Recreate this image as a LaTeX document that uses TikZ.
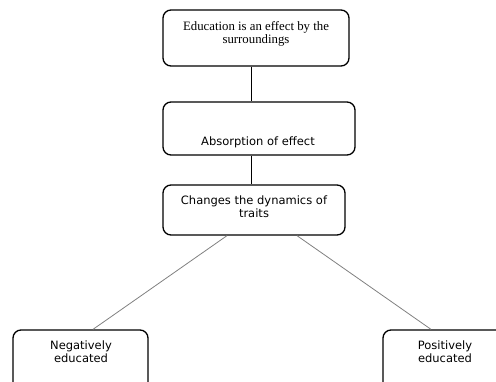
\documentclass[tikz,border=0pt]{standalone}
\usepackage{fontspec}
\setmainfont{DejaVu Sans}
\newfontfamily\boxserif{Liberation Serif}
\usepackage{tikz}

\tikzset{
	stepbox/.style={draw=black, line width=1.3pt, rounded corners=8pt},
	boxtext/.style={inner sep=0pt, align=center, font=\fontsize{11.5}{13}\selectfont},
	link/.style={draw=black, line width=0.8pt},
	branch/.style={draw=gray, line width=0.8pt}
}

\begin{document}
\begin{tikzpicture}[x=1pt,y=1pt]
		\useasboundingbox (0,0) rectangle (496,-381);
		\clip (0,0) rectangle (496,-381);
		% boxes
		\node [stepbox, minimum width=186pt, minimum height=56pt] (edu) at (256,-38) {};
		\node [boxtext, font=\boxserif\fontsize{12.8}{13}\selectfont] (edutxt) at (256,-33.5) {Education is an effect by the\\surroundings};
		\node [stepbox, minimum width=192pt, minimum height=53pt] (absorp) at (259,-128.5) {};
		\node [boxtext] (absorptxt) at (258,-142) {Absorption of effect};
		\node [stepbox, minimum width=182pt, minimum height=50pt] (changes) at (254,-210) {};
		\node [boxtext] (changestxt) at (254,-206.5) {Changes the dynamics of\\traits};
		\node [stepbox, minimum width=135pt, minimum height=60pt] (neg) at (80.5,-360) {};
		\node [boxtext] (negtxt) at (81,-351.5) {Negatively\\educated};
		\node [stepbox, minimum width=124pt, minimum height=60pt] (pos) at (445,-360) {};
		\node [boxtext] (postxt) at (445,-351.5) {Positively\\educated};
		% connectors
		\coordinate (spine) at (251,0);
		\draw [link] (edu.south -| spine) -- (absorp.north -| spine);
		\draw [link] (absorp.south -| spine) -- (changes.north -| spine);
		\draw [branch] ([xshift=-27pt]changes.south) -- ([xshift=12.5pt]neg.north);
		\draw [branch] ([xshift=43pt]changes.south) -- ([xshift=-14pt]pos.north);
	\end{tikzpicture}
\end{document}
